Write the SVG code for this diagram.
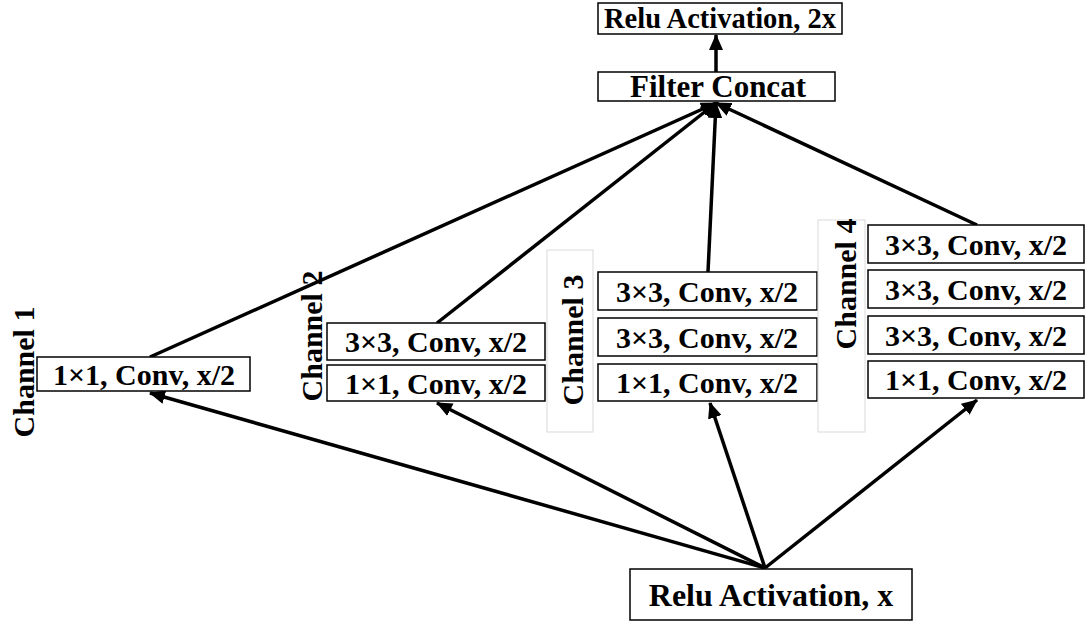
<svg xmlns="http://www.w3.org/2000/svg" width="1085" height="622" viewBox="0 0 1085 622">
<defs>
<style>
.box{fill:#fff;stroke:#000;stroke-width:1.5}
.lbox{fill:#fff;stroke:#d9d9d9;stroke-width:1}
.t{font-family:"Liberation Serif","Times New Roman",serif;font-weight:bold;font-size:30px;fill:#000;text-anchor:middle}
.c{stroke:#000;stroke-width:3.5;fill:none;marker-end:url(#ah)}
</style>
<marker id="ah" markerUnits="userSpaceOnUse" markerWidth="16" markerHeight="14" refX="15" refY="7" orient="auto">
<path d="M0,0 L16,7 L0,14 Z" fill="#000"/>
</marker>
</defs>
<rect width="1085" height="622" fill="#fff"/>
<g id="connectors">
<line class="c" x1="716" y1="72" x2="716" y2="35"/>
<line class="c" x1="765" y1="568" x2="150" y2="393"/>
<line class="c" x1="765" y1="568" x2="437" y2="403"/>
<line class="c" x1="765" y1="568" x2="710" y2="403"/>
<line class="c" x1="765" y1="568" x2="977" y2="400"/>
<line class="c" x1="150" y1="357" x2="716" y2="103"/>
<line class="c" x1="437" y1="323" x2="716" y2="103"/>
<line class="c" x1="708" y1="272" x2="716" y2="103"/>
<line class="c" x1="977" y1="225" x2="716" y2="103"/>
</g>
<g id="relu2x"><rect class="box" x="598" y="3" width="244" height="31"/><text class="t" x="720" y="28" style="font-size:28.5px">Relu Activation, 2x</text></g>
<g id="concat"><rect class="box" x="598" y="72" width="237" height="29"/><text class="t" x="718" y="97" style="font-size:31px">Filter Concat</text></g>
<g id="ch1label"><text class="t" transform="translate(34,372) rotate(-90)">Channel 1</text></g>
<g id="ch1conv"><rect class="box" x="37" y="357" width="213" height="34"/><text class="t" x="144" y="385">1×1, Conv, x/2</text></g>
<g id="ch2label"><text class="t" transform="translate(322,336) rotate(-90)">Channel 2</text></g>
<g id="ch2conv3"><rect class="box" x="327" y="323" width="218" height="37"/><text class="t" x="436" y="352">3×3, Conv, x/2</text></g>
<g id="ch2conv1"><rect class="box" x="327" y="365" width="218" height="36"/><text class="t" x="436" y="394">1×1, Conv, x/2</text></g>
<g id="ch3label"><rect class="lbox" x="547" y="250" width="46" height="182"/><text class="t" transform="translate(583,340) rotate(-90)">Channel 3</text></g>
<g id="ch3conv3a"><rect class="box" x="598" y="272" width="219" height="38"/><text class="t" x="707" y="302">3×3, Conv, x/2</text></g>
<g id="ch3conv3b"><rect class="box" x="598" y="318" width="219" height="38"/><text class="t" x="707" y="348">3×3, Conv, x/2</text></g>
<g id="ch3conv1"><rect class="box" x="598" y="364" width="219" height="37"/><text class="t" x="707" y="393">1×1, Conv, x/2</text></g>
<g id="ch4label"><rect class="lbox" x="818" y="220" width="47" height="212"/><text class="t" transform="translate(856,284) rotate(-90)">Channel 4</text></g>
<g id="ch4conv3a"><rect class="box" x="868" y="225" width="216" height="38"/><text class="t" x="976" y="255">3×3, Conv, x/2</text></g>
<g id="ch4conv3b"><rect class="box" x="868" y="270" width="216" height="38"/><text class="t" x="976" y="300">3×3, Conv, x/2</text></g>
<g id="ch4conv3c"><rect class="box" x="868" y="316" width="216" height="38"/><text class="t" x="976" y="346">3×3, Conv, x/2</text></g>
<g id="ch4conv1"><rect class="box" x="868" y="361" width="216" height="37"/><text class="t" x="976" y="390">1×1, Conv, x/2</text></g>
<g id="relux"><rect class="box" x="630" y="569" width="282" height="51"/><text class="t" x="771" y="606" style="font-size:32px">Relu Activation, x</text></g>
</svg>
